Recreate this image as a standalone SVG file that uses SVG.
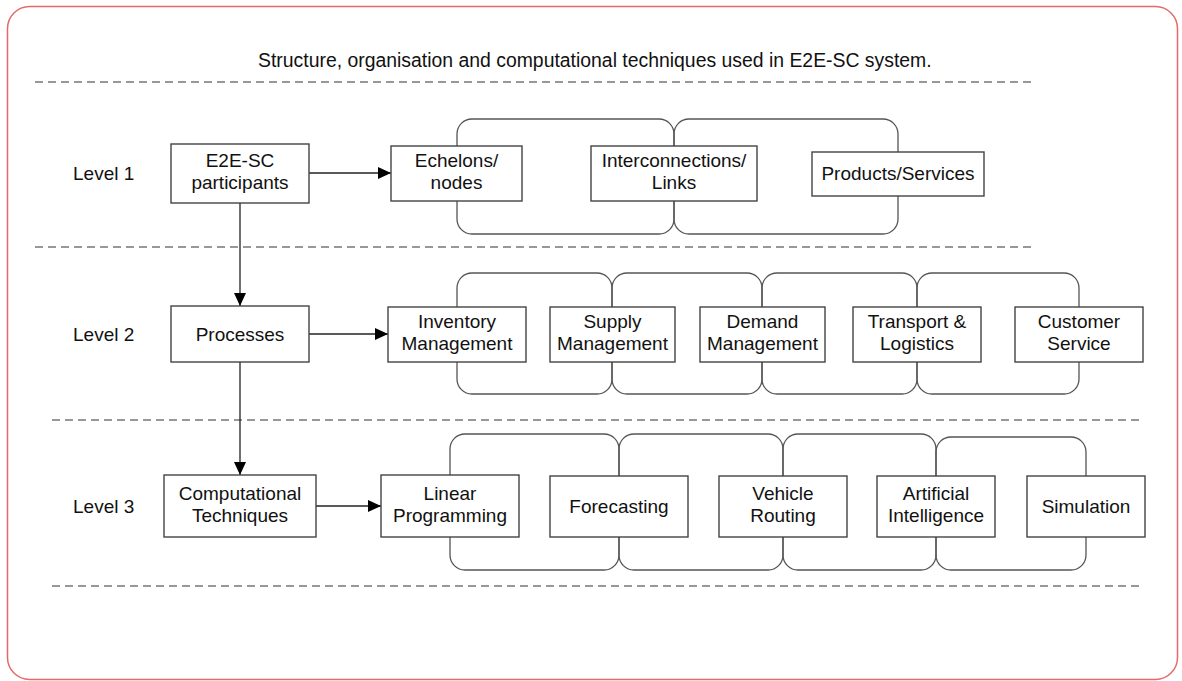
<svg xmlns="http://www.w3.org/2000/svg" width="1182" height="681" viewBox="0 0 1182 681">
<style>
text{font-family:"Liberation Sans",Arial,sans-serif;fill:#111;}
.t{font-size:19px;text-anchor:middle;}
.lv{font-size:19px;}
.ttl{font-size:19.4px;}
.box{fill:#fff;stroke:#444;stroke-width:1.4;}
.grp{fill:none;stroke:#555;stroke-width:1.3;}
.dash{stroke:#777;stroke-width:1.5;stroke-dasharray:8,5;fill:none;}
.con{stroke:#222;stroke-width:1.3;fill:none;}
</style>
<defs>
<marker id="ah" viewBox="0 0 13 12" refX="13" refY="6" markerWidth="13" markerHeight="12" markerUnits="userSpaceOnUse" orient="auto">
<path d="M0,0 L13,6 L0,12 z" fill="#000"/>
</marker>
</defs>
<rect x="7.5" y="6.5" width="1170" height="673" rx="22" fill="#fff" stroke="#e46a6a" stroke-width="1.5"/>
<text class="ttl" x="258" y="67">Structure, organisation and computational techniques used in E2E-SC system.</text>
<g id="dividers">
<line class="dash" x1="35" y1="82" x2="1035" y2="82"/>
<line class="dash" x1="35" y1="247" x2="1035" y2="247"/>
<line class="dash" x1="52" y1="420" x2="1142" y2="420"/>
<line class="dash" x1="52" y1="586" x2="1142" y2="586"/>
</g>
<g id="levels">
<text class="lv" x="73" y="180">Level 1</text>
<text class="lv" x="73" y="341">Level 2</text>
<text class="lv" x="73" y="513">Level 3</text>
</g>
<g id="groups">
<rect class="grp" x="457" y="119" width="217" height="115" rx="15"/>
<rect class="grp" x="674" y="119" width="224" height="115" rx="15"/>
<rect class="grp" x="457" y="273" width="155" height="121" rx="15"/>
<rect class="grp" x="612" y="273" width="150" height="121" rx="15"/>
<rect class="grp" x="762" y="273" width="155" height="121" rx="15"/>
<rect class="grp" x="917" y="273" width="162" height="121" rx="15"/>
<rect class="grp" x="450" y="434" width="169" height="136" rx="15"/>
<rect class="grp" x="619" y="434" width="164" height="136" rx="15"/>
<rect class="grp" x="783" y="434" width="153" height="136" rx="15"/>
<rect class="grp" x="936" y="437" width="150" height="133" rx="15"/>
</g>
<g id="connectors">
<line class="con" x1="309" y1="173" x2="391" y2="173" marker-end="url(#ah)"/>
<line class="con" x1="309" y1="334" x2="388" y2="334" marker-end="url(#ah)"/>
<line class="con" x1="316" y1="506" x2="381" y2="506" marker-end="url(#ah)"/>
<line class="con" x1="240" y1="203" x2="240" y2="306" marker-end="url(#ah)"/>
<line class="con" x1="240" y1="362" x2="240" y2="475" marker-end="url(#ah)"/>
</g>
<g id="n-e2e"><rect class="box" x="171" y="144" width="138" height="59"/><text class="t" x="240" y="167">E2E-SC</text><text class="t" x="240" y="189">participants</text></g>
<g id="n-echelons"><rect class="box" x="391" y="146" width="131" height="55"/><text class="t" x="456.5" y="167">Echelons/</text><text class="t" x="456.5" y="189">nodes</text></g>
<g id="n-interconnections"><rect class="box" x="591" y="146" width="166" height="55"/><text class="t" x="674" y="167">Interconnections/</text><text class="t" x="674" y="189">Links</text></g>
<g id="n-products"><rect class="box" x="812" y="152" width="172" height="44"/><text class="t" x="898" y="180">Products/Services</text></g>
<g id="n-processes"><rect class="box" x="171" y="306" width="138" height="56"/><text class="t" x="240" y="341">Processes</text></g>
<g id="n-inventory"><rect class="box" x="388" y="307" width="138" height="55"/><text class="t" x="457" y="328">Inventory</text><text class="t" x="457" y="350">Management</text></g>
<g id="n-supply"><rect class="box" x="550" y="307" width="125" height="55"/><text class="t" x="612.5" y="328">Supply</text><text class="t" x="612.5" y="350">Management</text></g>
<g id="n-demand"><rect class="box" x="700" y="307" width="125" height="55"/><text class="t" x="762.5" y="328">Demand</text><text class="t" x="762.5" y="350">Management</text></g>
<g id="n-transport"><rect class="box" x="853" y="307" width="128" height="55"/><text class="t" x="917" y="328">Transport &amp;</text><text class="t" x="917" y="350">Logistics</text></g>
<g id="n-customer"><rect class="box" x="1015" y="307" width="128" height="55"/><text class="t" x="1079" y="328">Customer</text><text class="t" x="1079" y="350">Service</text></g>
<g id="n-computational"><rect class="box" x="164" y="475" width="152" height="62"/><text class="t" x="240" y="500">Computational</text><text class="t" x="240" y="522">Techniques</text></g>
<g id="n-linear"><rect class="box" x="381" y="475" width="138" height="62"/><text class="t" x="450" y="500">Linear</text><text class="t" x="450" y="522">Programming</text></g>
<g id="n-forecasting"><rect class="box" x="550" y="476" width="138" height="61"/><text class="t" x="619" y="513">Forecasting</text></g>
<g id="n-vehicle"><rect class="box" x="719" y="476" width="128" height="61"/><text class="t" x="783" y="500">Vehicle</text><text class="t" x="783" y="522">Routing</text></g>
<g id="n-ai"><rect class="box" x="877" y="476" width="118" height="61"/><text class="t" x="936" y="500">Artificial</text><text class="t" x="936" y="522">Intelligence</text></g>
<g id="n-simulation"><rect class="box" x="1027" y="476" width="118" height="61"/><text class="t" x="1086" y="513">Simulation</text></g>
</svg>
